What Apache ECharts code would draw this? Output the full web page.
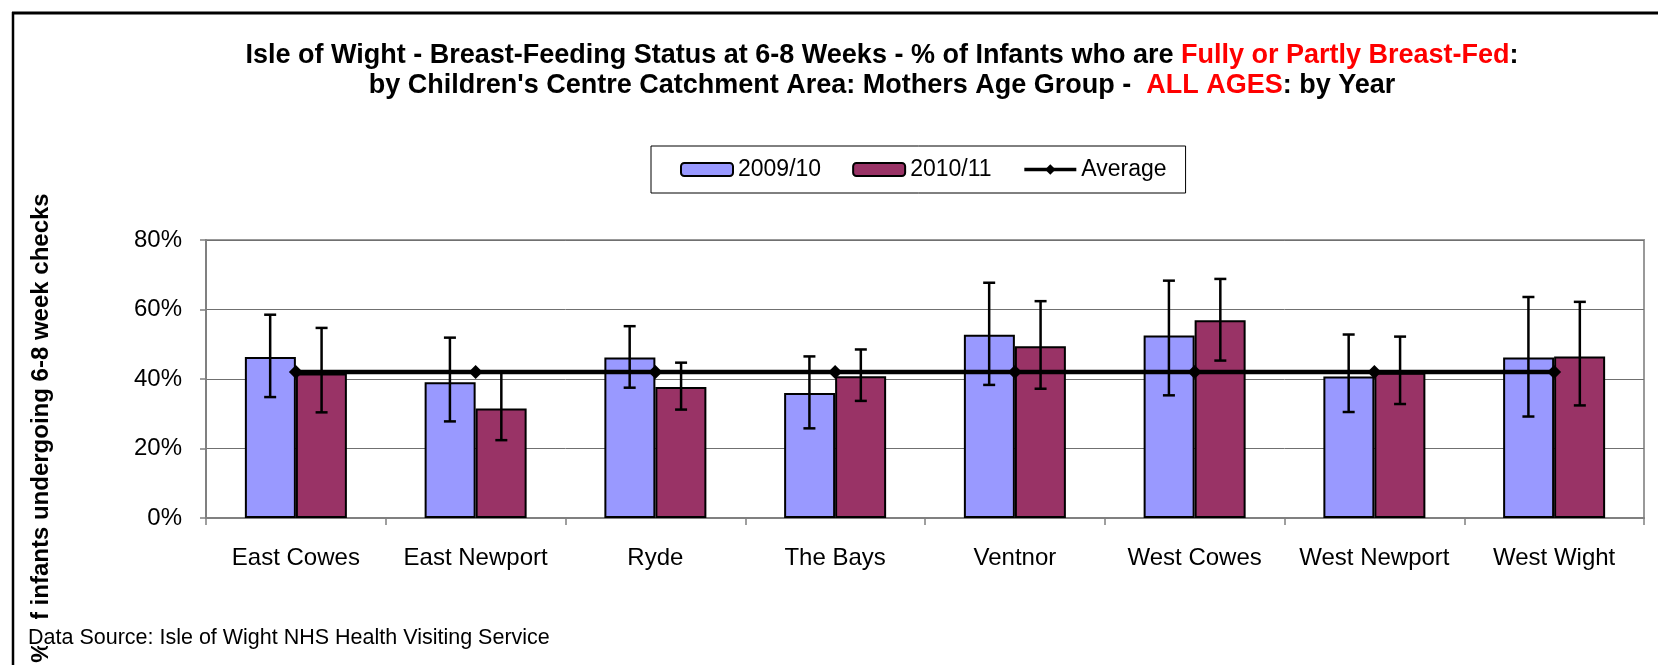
<!DOCTYPE html>
<html>
<head>
<meta charset="utf-8">
<script src="https://cdn.jsdelivr.net/npm/echarts@6/dist/echarts.min.js"></script>
<style>
html,body{margin:0;padding:0;background:#fff;}
#chart{width:1658px;height:665px;}
</style>
</head>
<body>
<div id="chart"></div>
<script>
const categories = ['East Cowes','East Newport','Ryde','The Bays','Ventnor','West Cowes','West Newport','West Wight'];
const y2009 = [46.3, 39.1, 46.2, 36.0, 52.7, 52.5, 40.7, 46.2];
const y2010 = [41.6, 31.5, 37.7, 40.8, 49.4, 56.9, 41.8, 46.5];
const err2009Low  = [34.8, 27.8, 37.5, 25.8, 38.3, 35.3, 30.5, 29.2];
const err2009High = [58.5, 51.9, 55.2, 46.5, 67.7, 68.3, 52.8, 63.6];
const err2010Low  = [30.4, 22.4, 31.2, 33.7, 37.2, 45.3, 32.8, 32.4];
const err2010High = [54.7, 41.8, 44.7, 48.5, 62.4, 68.8, 52.2, 62.2];
const average = [42.0, 42.0, 42.0, 42.0, 42.0, 42.0, 42.0, 42.0];
const yTicks = ['0%','20%','40%','60%','80%'];

const FONT = "'Liberation Sans', Arial, sans-serif";
const chart = echarts.init(document.getElementById('chart'));

function errData(lo, hi){ return lo.map((v,i)=>[i, v, hi[i]]); }
function errRender(side){
  return function(params, api){
    const i = api.value(0);
    const pLo = api.coord([i, api.value(1)]);
    const pHi = api.coord([i, api.value(2)]);
    const band = api.size([1,0])[0];
    const x = pLo[0] + side * band * 0.143;
    const cap = 6;
    const st = {stroke:'#000', lineWidth:2.5};
    return {type:'group', children:[
      {type:'line', shape:{x1:x, y1:pLo[1], x2:x, y2:pHi[1]}, style:st},
      {type:'line', shape:{x1:x-cap, y1:pLo[1], x2:x+cap, y2:pLo[1]}, style:st},
      {type:'line', shape:{x1:x-cap, y1:pHi[1], x2:x+cap, y2:pHi[1]}, style:st}
    ]};
  };
}

const option = {
  animation:false,
  backgroundColor:'#fff',
  textStyle:{fontFamily:FONT},
  grid:{left:206, right:14, top:240, bottom:147, show:true, borderColor:'#999', borderWidth:2, containLabel:false},
  legend:{
    left:651, top:146,
    padding:[12,19,12,29],
    borderColor:'#000', borderWidth:1,
    itemWidth:52, itemHeight:13, itemGap:31,
    textStyle:{fontSize:23, color:'#000', fontFamily:FONT, padding:[0,0,0,0]},
    data:[{name:'2009/10'},{name:'2010/11'},{name:'Average', lineStyle:{width:3.5, color:'#000'}, itemStyle:{color:'#000'}}]
  },
  xAxis:{
    type:'category', data:categories, boundaryGap:true,
    axisLine:{lineStyle:{color:'#808080', width:2}},
    axisTick:{show:true, length:7, lineStyle:{color:'#808080', width:1.5}},
    axisLabel:{fontSize:24, color:'#000', margin:28, fontFamily:FONT, interval:0}
  },
  yAxis:{
    type:'value', min:0, max:80, interval:20,
    axisLine:{show:true, lineStyle:{color:'#808080', width:2}},
    axisTick:{show:true, length:6, lineStyle:{color:'#808080', width:1.5}},
    axisLabel:{fontSize:24, color:'#000', margin:24, fontFamily:FONT,
      formatter:function(v){ return yTicks[Math.round(v/20)]; }},
    splitLine:{show:true, lineStyle:{color:'#707070', width:1}}
  },
  series:[
    {name:'2009/10', type:'bar', data:y2009, barWidth:51, barGap:'0%',
      itemStyle:{color:'#9999FF', borderColor:'#000', borderWidth:2}, z:2},
    {name:'2010/11', type:'bar', data:y2010, barWidth:51, barGap:'0%',
      itemStyle:{color:'#993366', borderColor:'#000', borderWidth:2}, z:2},
    {name:'err2009', type:'custom', data:errData(err2009Low, err2009High), renderItem:errRender(-1), z:3,
      encode:{x:0, y:[1,2]}},
    {name:'err2010', type:'custom', data:errData(err2010Low, err2010High), renderItem:errRender(1), z:3,
      encode:{x:0, y:[1,2]}},
    {name:'Average', type:'line', data:average, symbol:'diamond', symbolSize:14,
      lineStyle:{color:'#000', width:4.5}, itemStyle:{color:'#000'}, z:5}
  ],
  graphic:[
    {type:'line', shape:{x1:12, y1:13, x2:1658, y2:13}, style:{stroke:'#000', lineWidth:3}, z:100},
    {type:'line', shape:{x1:13, y1:12, x2:13, y2:665}, style:{stroke:'#000', lineWidth:2.5}, z:100},
    {type:'text', x:882, y:55.5, z:100, style:{
      text:'{b|Isle of Wight - Breast-Feeding Status at 6-8 Weeks - % of Infants who are }{r|Fully or Partly Breast-Fed}{b|:}',
      align:'center', verticalAlign:'middle',
      rich:{b:{font:'bold 27px '+FONT, fill:'#000'}, r:{font:'bold 27px '+FONT, fill:'#FF0000'}}
    }},
    {type:'text', x:882, y:85.5, z:100, style:{
      text:"{b|by Children's Centre Catchment Area: Mothers Age Group -  }{r|ALL AGES}{b|: by Year}",
      align:'center', verticalAlign:'middle',
      rich:{b:{font:'bold 27px '+FONT, fill:'#000'}, r:{font:'bold 27px '+FONT, fill:'#FF0000'}}
    }},
    {type:'text', x:41, y:428, rotation:Math.PI/2, z:100, style:{
      text:'% of infants undergoing 6-8 week checks', font:'bold 24px '+FONT, fill:'#000',
      align:'center', verticalAlign:'middle'
    }},
    {type:'rect', shape:{x:26, y:619, width:545, height:27}, style:{fill:'#fff'}, z:101},
    {type:'text', x:28, y:638, z:102, style:{
      text:'Data Source: Isle of Wight NHS Health Visiting Service', font:'21.5px '+FONT, fill:'#000',
      align:'left', verticalAlign:'middle'
    }}
  ]
};
chart.setOption(option);
</script>
</body>
</html>
